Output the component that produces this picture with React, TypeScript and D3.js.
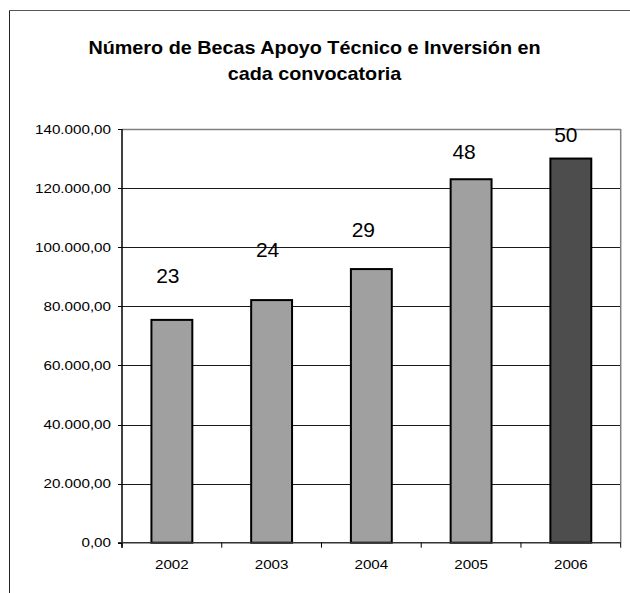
import React from "react";
import * as d3 from "d3";

const years = ["2002", "2003", "2004", "2005", "2006"];
const amounts = [75400, 82100, 92600, 123000, 130000];
const becas = [23, 24, 29, 48, 50];
// label anchor positions, in axis units (labels are free-placed in the original)
const labelAt = [87800, 96700, 103500, 129700, 135700];
const labelShift = [-4, -4, -8, -7, -5];
const yTicks = [0, 20000, 40000, 60000, 80000, 100000, 120000, 140000];
const highlight = ["2006"];

const W = 630;
const H = 593;
const M = { left: 122, right: 9.3, top: 129, bottom: 50.3 };

const fmt = (v: number) => {
  const s = Math.round(v).toString().replace(/\B(?=(\d{3})+(?!\d))/g, ".");
  return s + ",00";
};

const SX = 1.17;

export default function App() {
  const x = d3
    .scaleBand<string>()
    .domain(years)
    .range([M.left, W - M.right])
    .paddingInner(0.59)
    .paddingOuter(0.295);
  const band = d3.scaleBand<string>().domain(years).range([M.left, W - M.right]);
  const y = d3.scaleLinear().domain([0, 140000]).range([H - M.bottom, M.top]);
  const font = "Liberation Sans, Arial, Helvetica, sans-serif";
  const x0 = M.left;
  const x1 = W - M.right;
  const y0 = y(0);
  const boundaries = [...years.map((d) => band(d) as number), x1];

  return (
    <svg
      width={W}
      height={H}
      style={{ position: "absolute", left: 0, top: 0, background: "#fff" }}
      fontFamily={font}
    >
      <rect x={0} y={0} width={W} height={H} fill="#fff" />
      {/* outer chart frame */}
      <line x1={9.5} y1={10.5} x2={W} y2={10.5} stroke="#555" strokeWidth={1.2} />
      <line x1={9.5} y1={10.5} x2={9.5} y2={H} stroke="#222" strokeWidth={1} />

      {/* title */}
      <g transform={`translate(314.5,54) scale(1.1,1)`}>
        <text x={0} y={0} textAnchor="middle" fontSize={18} fontWeight="bold" fill="#000">
          Número de Becas Apoyo Técnico e Inversión en
        </text>
      </g>
      <g transform={`translate(314.5,79.5) scale(1.1,1)`}>
        <text x={0} y={0} textAnchor="middle" fontSize={18} fontWeight="bold" fill="#000">
          cada convocatoria
        </text>
      </g>

      {/* gridlines */}
      {yTicks
        .filter((t) => t > 0 && t < 140000)
        .map((t) => (
          <line key={t} x1={x0} x2={x1} y1={Math.round(y(t)) + 0.5} y2={Math.round(y(t)) + 0.5} stroke="#1a1a1a" strokeWidth={1} />
        ))}
      {/* plot border top/right */}
      <line x1={x0} x2={x1} y1={Math.round(y(140000)) + 0.5} y2={Math.round(y(140000)) + 0.5} stroke="#808080" strokeWidth={1.5} />
      <line x1={x1} x2={x1} y1={y(140000)} y2={y0} stroke="#808080" strokeWidth={1.5} />

      {/* bars */}
      {years.map((yr, i) => (
        <rect
          key={yr}
          x={x(yr)}
          y={y(amounts[i])}
          width={x.bandwidth()}
          height={y0 - y(amounts[i])}
          fill={highlight.includes(yr) ? "#4d4d4d" : "#a0a0a0"}
          stroke="#000"
          strokeWidth={2}
        />
      ))}

      {/* axes */}
      <line x1={x0} x2={x0} y1={y(140000)} y2={y0 + 5} stroke="#000" strokeWidth={1.5} />
      <line x1={x0 - 4} x2={x1} y1={y0} y2={y0} stroke="#333" strokeWidth={1.5} />
      {yTicks.map((t) => (
        <g key={t}>
          <line x1={x0 - 4} x2={x0} y1={Math.round(y(t)) + 0.5} y2={Math.round(y(t)) + 0.5} stroke="#000" />
          <g transform={`translate(111,${y(t)}) scale(${SX},1)`}>
            <text x={0} y={0} dy="0.35em" textAnchor="end" fontSize={13} fill="#000">
              {fmt(t)}
            </text>
          </g>
        </g>
      ))}
      {boundaries.map((b, i) => (
        <line key={i} x1={b} x2={b} y1={y0} y2={y0 + 5} stroke="#000" strokeWidth={1} />
      ))}
      {years.map((yr) => (
        <g key={yr} transform={`translate(${(band(yr) as number) + band.bandwidth() / 2},569) scale(${SX},1)`}>
          <text x={0} y={0} textAnchor="middle" fontSize={13} fill="#000">
            {yr}
          </text>
        </g>
      ))}

      {/* beca count labels */}
      {years.map((yr, i) => (
        <text
          key={yr}
          x={(band(yr) as number) + band.bandwidth() / 2 + labelShift[i]}
          y={y(labelAt[i])}
          textAnchor="middle"
          fontSize={21}
          fill="#000"
        >
          {becas[i]}
        </text>
      ))}
    </svg>
  );
}
